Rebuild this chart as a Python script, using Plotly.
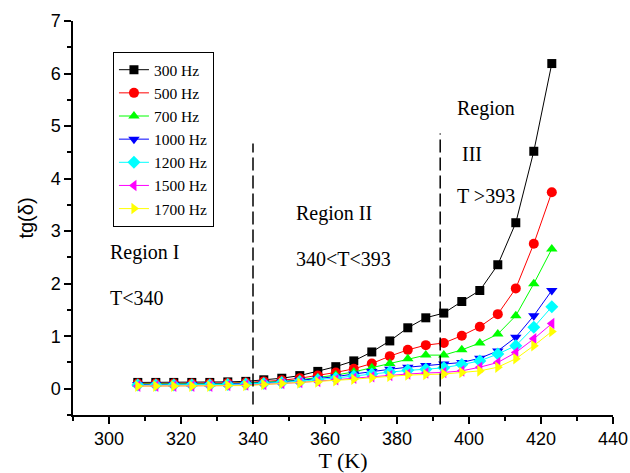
import plotly.graph_objects as go

temperature = [308, 313, 318, 323, 328, 333, 338, 343, 348, 353, 358, 363,
               368, 373, 378, 383, 388, 393, 398, 403, 408, 413, 418, 423]

tg_300 = [0.12, 0.12, 0.12, 0.12, 0.12, 0.13, 0.14, 0.17, 0.20, 0.25, 0.33, 0.42,
          0.53, 0.70, 0.91, 1.16, 1.35, 1.44, 1.66, 1.87, 2.36, 3.16, 4.52, 6.19]
tg_500 = [0.10, 0.10, 0.10, 0.10, 0.10, 0.11, 0.12, 0.14, 0.16, 0.20, 0.25, 0.31,
          0.38, 0.48, 0.62, 0.74, 0.83, 0.87, 1.01, 1.18, 1.42, 1.91, 2.76, 3.74]
tg_700 = [0.09, 0.09, 0.09, 0.09, 0.09, 0.10, 0.11, 0.12, 0.14, 0.17, 0.21, 0.26,
          0.32, 0.40, 0.48, 0.57, 0.64, 0.64, 0.74, 0.87, 1.04, 1.39, 2.00, 2.66]
tg_1000 = [0.08, 0.08, 0.08, 0.08, 0.08, 0.09, 0.10, 0.11, 0.13, 0.16, 0.19, 0.23,
           0.28, 0.33, 0.37, 0.41, 0.44, 0.47, 0.50, 0.58, 0.72, 0.98, 1.39, 1.87]
tg_1200 = [0.07, 0.07, 0.07, 0.07, 0.07, 0.08, 0.09, 0.10, 0.12, 0.14, 0.17, 0.20,
           0.24, 0.28, 0.32, 0.35, 0.37, 0.40, 0.46, 0.53, 0.66, 0.82, 1.17, 1.56]
tg_1500 = [0.05, 0.05, 0.05, 0.05, 0.05, 0.06, 0.07, 0.08, 0.10, 0.12, 0.14, 0.17,
           0.20, 0.23, 0.25, 0.28, 0.30, 0.31, 0.34, 0.41, 0.50, 0.69, 0.95, 1.24]
tg_1700 = [0.05, 0.05, 0.05, 0.05, 0.05, 0.06, 0.06, 0.08, 0.10, 0.11, 0.13, 0.15,
           0.18, 0.21, 0.24, 0.26, 0.27, 0.28, 0.31, 0.34, 0.41, 0.57, 0.82, 1.09]

series_names = ["300 Hz", "500 Hz", "700 Hz", "1000 Hz", "1200 Hz", "1500 Hz", "1700 Hz"]
series_values = [tg_300, tg_500, tg_700, tg_1000, tg_1200, tg_1500, tg_1700]

region_bounds = [340, 392]
x_ticks = [300, 320, 340, 360, 380, 400, 420, 440]
y_ticks = [0, 1, 2, 3, 4, 5, 6, 7]

colors = ["#000000", "#FF0000", "#00FF00", "#0000FF", "#00FFFF", "#FF00FF", "#FFFF00"]
symbols = ["square", "circle", "triangle-up", "triangle-down", "diamond",
           "triangle-left", "triangle-right"]
sizes = [9, 10, 10, 10, 10, 10, 10]

fig = go.Figure()
for name, vals, c, s, sz in zip(series_names, series_values, colors, symbols, sizes):
    fig.add_trace(go.Scatter(
        x=temperature, y=vals, name=name, mode="lines+markers",
        line=dict(color=c, width=1),
        marker=dict(symbol=s, size=sz, color=c, line=dict(width=0)),
    ))

for xb, ytop in zip(region_bounds, [4.67, 4.86]):
    fig.add_shape(type="line", x0=xb, x1=xb, y0=-0.3, y1=ytop, xref="x", yref="y",
                  line=dict(color="black", width=1.5, dash="13px,5px"))

serif = "Liberation Serif, Times New Roman, serif"
sans = "Liberation Sans, Arial, sans-serif"

labels = [
    ("Region I", 299.6, 2.59),
    ("T<340", 299.6, 1.73),
    ("Region II", 351.5, 3.33),
    ("340<T<393", 351.5, 2.47),
    ("Region", 396.1, 5.34),
    ("III", 397.5, 4.46),
    ("T >393", 396.1, 3.66),
]
for txt, xx, yy in labels:
    fig.add_annotation(x=xx, y=yy, text=txt, showarrow=False, xanchor="left",
                       yanchor="middle", font=dict(family=serif, size=20, color="black"))

fig.update_layout(
    width=630, height=473,
    margin=dict(l=73, r=17, t=21, b=58),
    paper_bgcolor="white", plot_bgcolor="white",
    showlegend=True,
    legend=dict(x=0.074, y=0.921, xanchor="left", yanchor="top",
                bordercolor="black", borderwidth=1, bgcolor="white",
                font=dict(family=serif, size=15.5, color="black"),
                tracegroupgap=0),
    xaxis=dict(range=[290, 440], tickvals=x_ticks, showline=True, linecolor="black",
               linewidth=1.5, ticks="outside", ticklen=7, tickwidth=1.5, tickcolor="black",
               showgrid=False, zeroline=False, automargin=False,
               tickfont=dict(family=sans, size=18, color="black"),
               minor=dict(dtick=10, tick0=290, ticks="outside", ticklen=4, tickcolor="black",
                          tickwidth=1.5, showgrid=False),
               title=dict(text="T (K)", font=dict(family=serif, size=22, color="black"),
                          standoff=4)),
    yaxis=dict(range=[-0.5, 7], tickvals=y_ticks, showline=True, linecolor="black",
               linewidth=1.5, ticks="outside", ticklen=7, tickwidth=1.5, tickcolor="black",
               showgrid=False, zeroline=False, automargin=False,
               tickfont=dict(family=sans, size=18, color="black"),
               minor=dict(dtick=0.5, tick0=0, ticks="outside", ticklen=4, tickcolor="black",
                          tickwidth=1.5, showgrid=False),
               title=dict(text="tg(δ)", font=dict(family=sans, size=20, color="black"),
                          standoff=12)),
)

fig.write_html("out.html")
